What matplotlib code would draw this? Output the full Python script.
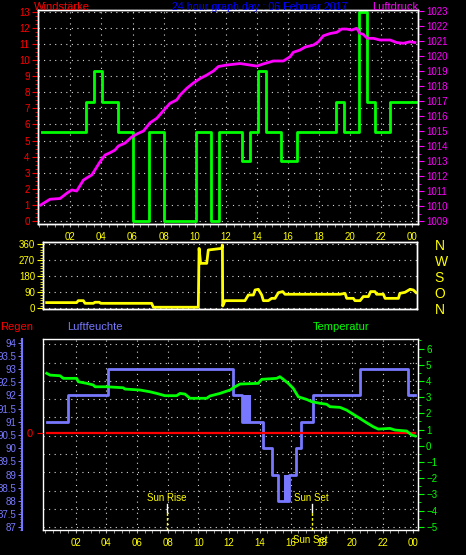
import numpy as np
import matplotlib
matplotlib.use('Agg')
import matplotlib.pyplot as plt
from matplotlib.ticker import MultipleLocator, FuncFormatter

plt.rcParams['font.family'] = ['Liberation Sans', 'DejaVu Sans']

# --- Daten ---
# Windstaerke (Stufen)
wind_t = [0.16, 3.00, 3.52, 4.04, 5.07, 6.05, 7.06, 8.03, 10.08, 11.05, 11.56, 13.04, 13.56,
          14.07, 14.56, 15.53, 16.60, 19.08, 19.60, 20.55, 21.06, 21.58, 22.56, 24.20]
wind_v = [5.55, 7.4, 9.3, 7.4, 5.55, 0, 5.55, 0, 5.55, 0, 5.55, 3.7, 5.55,
          9.3, 5.55, 3.7, 5.55, 7.4, 5.55, 13.0, 7.4, 5.55, 7.4, 7.4]

# Luftdruck hPa
druck_t = [0.10, 0.69, 1.34, 1.77, 2.09, 2.41, 2.84, 3.10, 3.38, 3.70, 3.91, 4.23, 4.55, 4.87,
           5.09, 5.52, 5.95, 6.27, 6.70, 7.13, 7.56, 7.98, 8.41, 8.84, 9.06, 9.49, 9.91, 10.34,
           10.77, 11.20, 11.52, 12.06, 12.48, 12.91, 13.56, 13.99, 14.40, 15.06, 15.70, 16.13,
           16.34, 16.77, 17.10, 17.63, 17.95, 18.27, 18.70, 19.13, 19.45, 19.77, 20.09, 20.42,
           20.63, 20.84, 21.10, 21.50, 21.90, 22.56, 22.99, 23.41, 23.84, 24.16]
druck_v = [1010.07, 1010.45, 1010.5, 1010.85, 1011.07, 1011.0, 1011.73, 1011.9, 1012.07, 1012.6,
           1012.95, 1013.4, 1013.55, 1013.73, 1014.0, 1014.2, 1014.6, 1014.8, 1015.0, 1015.55,
           1015.85, 1016.35, 1016.85, 1017.07, 1017.4, 1017.85, 1018.2, 1018.5, 1018.73, 1019.0,
           1019.3, 1019.4, 1019.45, 1019.5, 1019.4, 1019.33, 1019.47, 1019.67, 1019.67, 1019.95,
           1020.25, 1020.4, 1020.6, 1020.73, 1020.95, 1021.35, 1021.5, 1021.58, 1021.8, 1021.8,
           1021.73, 1021.85, 1021.5, 1021.45, 1021.18, 1021.18, 1021.07, 1021.07, 1020.9,
           1020.85, 1020.95, 1020.9]

# Windrichtung Grad
richtung_t = [0.11, 2.06, 2.17, 2.50, 2.61, 3.15, 3.26, 3.54, 3.63, 6.95, 7.06, 9.99, 10.04,
              10.14, 10.54, 10.64, 11.51, 11.56, 11.58, 11.73, 13.03, 13.25, 13.58, 13.69, 13.90,
              14.12, 14.23, 14.55, 14.77, 14.99, 15.21, 15.49, 15.64, 19.22, 19.55, 19.66, 20.09,
              20.20, 20.53, 20.74, 21.07, 21.22, 21.50, 21.61, 22.05, 22.16, 23.03, 23.12, 23.46,
              23.79, 24.00, 24.18]
richtung_v = [32, 32, 43, 43, 28, 28, 34, 34, 28, 28, 6, 6, 337,
              253, 253, 328, 337, 356, 13, 43, 43, 75, 75, 103, 107,
              75, 43, 43, 56, 56, 88, 94, 79, 79, 84, 56, 56,
              43, 43, 66, 66, 94, 94, 79, 79, 56, 56, 84, 90,
              107, 103, 88]

# Luftfeuchte %
feuchte_t = [0.11, 1.52, 4.13, 12.27, 12.84, 14.19, 14.77, 15.16, 15.90, 16.36, 16.66, 17.44,
             20.53, 23.64, 24.13]
feuchte_v = [91, 92, 93, 92, 91, 90, 89, 88, 89, 90, 91, 92, 93, 92, 92]
flimmer_von = [12.84, 15.60]
flimmer_bis = [13.40, 15.90]
flimmer_unten = [91, 88]
flimmer_oben = [92, 89]

# Temperatur C
temp_t = [0.11, 0.33, 0.98, 1.19, 2.07, 2.17, 2.72, 3.15, 3.26, 4.02, 5.10, 5.21, 6.19, 6.84,
          7.28, 7.82, 8.58, 8.80, 9.12, 9.45, 10.54, 10.75, 11.40, 12.06, 12.38, 12.71, 13.90,
          14.12, 15.10, 15.31, 15.53, 15.86, 16.18, 16.51, 17.05, 17.38, 17.92, 18.36, 18.57,
          19.22, 19.66, 19.99, 20.42, 20.86, 21.40, 21.72, 22.48, 22.81, 23.57, 23.90, 24.13]
temp_v = [4.47, 4.36, 4.32, 4.16, 4.16, 3.95, 3.85, 3.75, 3.64, 3.64, 3.58, 3.50, 3.44, 3.33,
          3.23, 3.09, 3.09, 3.23, 3.19, 2.93, 2.93, 3.07, 3.23, 3.44, 3.64, 3.81, 3.85,
          4.10, 4.16, 4.26, 4.10, 3.85, 3.54, 3.02, 2.86, 2.72, 2.62, 2.56, 2.41,
          2.37, 2.20, 2.00, 1.75, 1.48, 1.17, 1.03, 1.07, 0.97, 0.91, 0.66, 0.60]

# Regen mm
regen_t = [0.11, 24.13]
regen_v = [0, 0]

sonnenaufgang = 7.97
sonnenuntergang = 17.42

stunden = list(range(2, 25, 2))
stunden_labels = ['02', '04', '06', '08', '10', '12', '14', '16', '18', '20', '22', '00']
himmel = ['N', 'O', 'S', 'W', 'N']

GRUEN = '#00ff00'
BLAU = '#7878ff'
GELB = '#ffff00'
MAGENTA = '#ff00ff'
PUNKTE = dict(color='#d8d8d8', linestyle=(0, (1, 4)), linewidth=0.8)

W, H = 466, 555
fig = plt.figure(figsize=(W / 100, H / 100), dpi=100, facecolor='black')


def box(x0, y0, x1, y1):
    return [x0 / W, 1 - y1 / H, (x1 - x0) / W, (y1 - y0) / H]


def weiss(ax):
    for s in ax.spines.values():
        s.set_color('white')
        s.set_linewidth(1)


# ---------- Windstaerke / Luftdruck ----------
ax1 = fig.add_axes(box(38, 10, 418, 224), facecolor='black')
ax1.set_xlim(-0.08, 24.36)
ax1.set_ylim(-0.19, 13.12)
weiss(ax1)
ax1.set_yticks(range(0, 14))
ax1.yaxis.set_minor_locator(MultipleLocator(0.25))
ax1.tick_params(axis='y', which='both', colors='red', labelsize=7, pad=2)
ax1.tick_params(axis='y', which='major', length=4)
ax1.tick_params(axis='y', which='minor', length=2)
ax1.set_xticks(stunden)
ax1.set_xticklabels(stunden_labels)
ax1.xaxis.set_minor_locator(MultipleLocator(0.5))
ax1.tick_params(axis='x', which='both', colors='#b0b0b0', labelcolor=GELB, labelsize=7,
                length=2.5, pad=3)
ax1.grid(True, **PUNKTE)
ax1.plot(wind_t, wind_v, drawstyle='steps-post', color=GRUEN, lw=2)

ax1b = ax1.twinx()
weiss(ax1b)
ax1b.set_ylim(1008.8, 1023.07)
ax1b.set_yticks(range(1009, 1024))
ax1b.yaxis.set_minor_locator(MultipleLocator(0.5))
ax1b.tick_params(axis='y', which='both', colors=MAGENTA, labelsize=7, pad=2)
ax1b.tick_params(axis='y', which='major', length=4)
ax1b.tick_params(axis='y', which='minor', length=2)
ax1b.plot(druck_t, druck_v, color=MAGENTA, lw=2)

fig.text(34 / W, 1 - 9.5 / H, 'Windstärke', color='red', fontsize=8, va='baseline')
fig.text(171.7 / W, 1 - 9.5 / H, '24 hour graph day : 06 Februar 2017', color='#0000ff',
         fontsize=7.7, va='baseline')
fig.text(371.7 / W, 1 - 9.5 / H, 'Luftdruck', color=MAGENTA, fontsize=8, va='baseline')

# ---------- Windrichtung ----------
ax2 = fig.add_axes(box(43.3, 242.3, 416.7, 309.3), facecolor='black')
weiss(ax2)
ax2.set_xlim(-0.11, 24.22)
ax2.set_ylim(-5.6, 371.25)
ax2.set_xticks([])
ax2.set_yticks(range(0, 361, 90))
ax2.yaxis.set_minor_locator(MultipleLocator(15))
ax2.tick_params(axis='y', which='both', colors=GELB, labelsize=7, pad=2)
ax2.tick_params(axis='y', which='major', length=4)
ax2.tick_params(axis='y', which='minor', length=2)
ax2.grid(True, axis='y', **PUNKTE)
ax2.plot(richtung_t, richtung_v, color=GELB, lw=2)

ax2b = ax2.twinx()
weiss(ax2b)
ax2b.set_ylim(ax2.get_ylim())
ax2b.set_yticks(range(0, 361, 90))
ax2b.set_yticklabels(himmel)
ax2b.tick_params(axis='y', length=0, labelcolor=GELB, labelsize=10, pad=13)

# ---------- Regen / Luftfeuchte / Temperatur ----------
ax3 = fig.add_axes(box(42.7, 339.3, 417.7, 530), facecolor='black')
weiss(ax3)
ax3.set_xlim(-0.15, 24.29)
ax3.set_ylim(0, 1)
ax3.set_yticks(np.linspace(0.014, 0.974, 11))
ax3.tick_params(axis='y', length=0, labelleft=False)
ax3.set_xticks(stunden)
ax3.set_xticklabels(stunden_labels)
ax3.xaxis.set_minor_locator(MultipleLocator(0.5))
ax3.tick_params(axis='x', which='both', colors='#b0b0b0', labelcolor=GELB, labelsize=7,
                length=2.5, pad=3)
ax3.grid(True, **PUNKTE)

for t, wort in [(sonnenaufgang, 'Sun Rise'), (sonnenuntergang, 'Sun Set')]:
    ax3.plot([t, t], [0.094, 0.136], color='white', lw=1)
    ax3.plot([t, t], [0, 0.094], color=GELB, lw=1, linestyle=(0, (2, 1.5)))
    ax3.text(t - 0.04, 0.169, wort, color=GELB, fontsize=7, ha='center', va='center')
ax3.text(sonnenuntergang - 0.1, -0.05, 'Sun Set', color=GELB, fontsize=7, ha='center',
         va='center', clip_on=False)

axh = ax3.twinx()
for s in axh.spines.values():
    s.set_visible(False)
axh.spines['left'].set_visible(True)
axh.spines['left'].set_color(BLAU)
axh.spines['left'].set_linewidth(1.5)
axh.spines['left'].set_position(('axes', (21.7 - 42.7) / 375))
axh.yaxis.set_ticks_position('left')
axh.set_ylim(86.9, 94.13)
axh.set_yticks(np.arange(87, 94.01, 0.5))
axh.yaxis.set_major_formatter(FuncFormatter(lambda v, p: f'{v:g}'))
axh.yaxis.set_minor_locator(MultipleLocator(0.1))
axh.tick_params(axis='y', which='both', colors=BLAU, labelsize=7, pad=1)
axh.tick_params(axis='y', which='major', length=3)
axh.tick_params(axis='y', which='minor', length=1.5)
axh.plot(feuchte_t, feuchte_v, drawstyle='steps-post', color=BLAU, lw=2)
for a, b, lo, hi in zip(flimmer_von, flimmer_bis, flimmer_unten, flimmer_oben):
    axh.fill_between([a, b], [lo, lo], [hi, hi], color=BLAU, lw=0)

axr = ax3.twinx()
for s in axr.spines.values():
    s.set_visible(False)
axr.yaxis.set_ticks_position('left')
axr.set_ylim(-1, 0.975)
axr.set_yticks([0])
axr.tick_params(axis='y', colors='red', labelsize=8, length=4, pad=3)
axr.plot(regen_t, regen_v, color='red', lw=1.6)

axt = ax3.twinx()
for s in axt.spines.values():
    s.set_visible(False)
axt.spines['right'].set_visible(True)
axt.spines['right'].set_color('white')
axt.set_ylim(-5.2, 6.57)
axt.set_yticks(range(-5, 7))
axt.yaxis.set_minor_locator(MultipleLocator(0.5))
axt.tick_params(axis='y', which='both', colors=GRUEN, labelsize=7, pad=2)
axt.tick_params(axis='y', which='major', length=4)
axt.tick_params(axis='y', which='minor', length=2)
axt.plot(temp_t, temp_v, color=GRUEN, lw=2)

fig.text(0, 1 - 330 / H, 'Regen', color='red', fontsize=8, va='baseline')
fig.text(66.7 / W, 1 - 330 / H, 'Luftfeuchte', color=BLAU, fontsize=8, va='baseline')
fig.text(312.7 / W, 1 - 330 / H, 'Temperatur', color=GRUEN, fontsize=8, va='baseline')

fig.savefig('out.png', dpi=100, facecolor='black')
